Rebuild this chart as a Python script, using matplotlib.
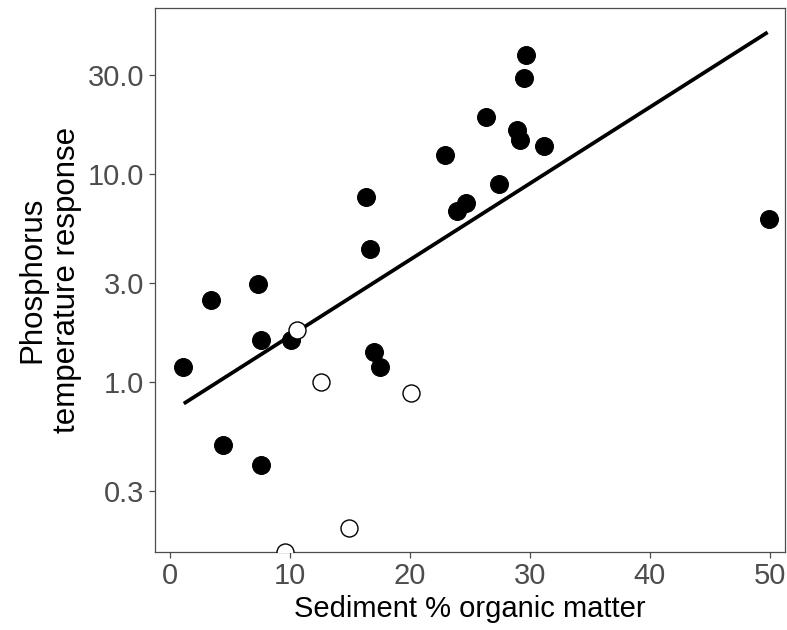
import matplotlib
matplotlib.use("Agg")
import matplotlib.pyplot as plt
from matplotlib.ticker import FixedLocator, FixedFormatter, NullLocator

plt.rcParams['font.family'] = ['Liberation Sans', 'DejaVu Sans']

# filled points
filled_x = [1.1, 3.4, 4.4, 7.3, 7.6, 7.6, 10.1, 16.3, 16.7, 17.0, 17.5,
            22.9, 23.9, 24.7, 26.3, 27.4, 28.9, 29.2, 29.5, 29.7, 31.2, 49.9]
filled_y = [1.18, 2.48, 0.50, 2.98, 1.59, 0.40, 1.59, 7.78, 4.39, 1.40, 1.19,
            12.3, 6.66, 7.28, 18.9, 8.95, 16.2, 14.6, 28.8, 37.3, 13.7, 6.06]

# open points
open_x = [10.6, 12.6, 20.1, 14.9, 9.6]
open_y = [1.79, 1.00, 0.89, 0.199, 0.153]

# fitted line end points
line_x = [1.15, 49.8]
line_y = [0.79, 48.0]

x_ticks = [0, 10, 20, 30, 40, 50]
y_ticks = [0.3, 1.0, 3.0, 10.0, 30.0]
y_labels = ["0.3", "1.0", "3.0", "10.0", "30.0"]

grey = "#4D4D4D"

fig = plt.figure(figsize=(7.87, 6.30), dpi=100)
ax = fig.add_axes([155 / 787, 78 / 630, 630 / 787, 544 / 630])

ax.plot(line_x, line_y, color="black", lw=2.7, solid_capstyle="butt", zorder=2)
ax.scatter(filled_x, filled_y, s=165, c="black", edgecolors="black",
           linewidths=0.8, zorder=3)
ax.scatter(open_x, open_y, s=150, c="white", edgecolors="black",
           linewidths=1.0, zorder=3)

ax.set_yscale("log")
ax.set_xlim(-1.25, 51.25)
ax.set_ylim(0.153, 62.8)

ax.xaxis.set_major_locator(FixedLocator(x_ticks))
ax.yaxis.set_major_locator(FixedLocator(y_ticks))
ax.yaxis.set_major_formatter(FixedFormatter(y_labels))
ax.yaxis.set_minor_locator(NullLocator())

for s in ax.spines.values():
    s.set_color(grey)
    s.set_linewidth(0.9)

ax.tick_params(axis="both", which="major", length=4.5, width=0.9, color=grey,
               labelcolor=grey, labelsize=21, pad=3)
ax.tick_params(axis="y", pad=3.5)

ax.set_xlabel("Sediment % organic matter", fontsize=21, color="black", labelpad=3)
ax.set_ylabel("Phosphorus\ntemperature response", fontsize=22.5, color="black",
              labelpad=4, linespacing=1.2)

fig.savefig("out.png", dpi=100)
